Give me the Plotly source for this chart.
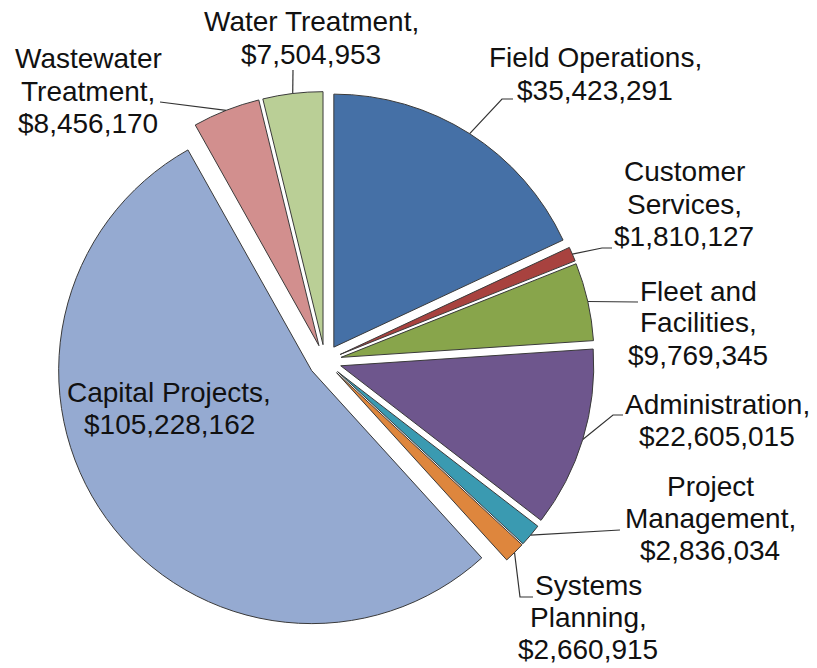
import math
import plotly.graph_objects as go

# ---------------- data ----------------
categories = ["Field Operations", "Customer Services", "Fleet and Facilities",
              "Administration", "Project Management", "Systems Planning",
              "Capital Projects", "Wastewater Treatment", "Water Treatment"]
values = [35423291, 1810127, 9769345, 22605015, 2836034, 2660915,
          105228162, 8456170, 7504953]
label_lines = [["Field Operations,"], ["Customer", "Services,"],
               ["Fleet and", "Facilities,"], ["Administration,"],
               ["Project", "Management,"], ["Systems", "Planning,"],
               ["Capital Projects,"], ["Wastewater", "Treatment,"],
               ["Water Treatment,"]]

# ---------------- styles / layout ----------------
colors = ["#4570A6", "#A8423F", "#88A54B", "#6E568D", "#3A9AB1",
          "#DE863D", "#95AAD1", "#D28F8E", "#BACF96"]
W, H = 817, 668
CX, CY, R, PULL = 325, 361, 253, 0.065
FONT = 28
LINE_GAP = 32

# label placement (pixel): centre x, first line centre y, leader elbow points
label_pos = [
    (595, 58, [(502, 99), (513, 99)]),
    (684, 172, [(602, 248), (612, 248)]),
    (698, 291, [(638, 302)]),
    (717, 404, [(613, 415), (623, 415)]),
    (710, 486, [(620, 530)]),
    (588, 585, [(520, 597), (533, 597)]),
    (169, 392, None),
    (88, 59, [(160, 102)]),
    (311, 22, [(293, 70)]),
]

half = R * (1 + PULL)
dom_x = [(CX - half) / W, (CX + half) / W]
dom_y = [(H - CY - half) / H, (H - CY + half) / H]

fig = go.Figure(go.Pie(
    labels=categories, values=values, sort=False, direction="clockwise",
    rotation=0, pull=PULL, textinfo="none", hoverinfo="label+value",
    marker=dict(colors=colors, line=dict(color="#3a3a3a", width=1)),
    domain=dict(x=dom_x, y=dom_y), showlegend=False,
))

def px(x):
    return x / W

def py(y):
    return 1 - y / H

total = sum(values)
cum = 0.0
annotations = []
shapes = []
for name, val, lines, (lx, ly, elbow) in zip(categories, values, label_lines, label_pos):
    frac = val / total
    mid = (cum + frac / 2) * 2 * math.pi
    cum += frac
    sx, sy = math.sin(mid), -math.cos(mid)
    ccx, ccy = CX + PULL * R * sx, CY + PULL * R * sy
    arc = (ccx + R * sx, ccy + R * sy)
    all_lines = lines + ["${:,}".format(val)]
    for i, t in enumerate(all_lines):
        annotations.append(dict(
            x=px(lx), y=py(ly + i * LINE_GAP), xref="paper", yref="paper",
            text=t, showarrow=False, xanchor="center", yanchor="middle",
            font=dict(family="Arial, Liberation Sans, sans-serif", size=FONT,
                      color="#111111")))
    if elbow:
        pts = [arc] + elbow
        path = "M " + " L ".join("{:.5f},{:.5f}".format(px(a), py(b)) for a, b in pts)
        shapes.append(dict(type="path", xref="paper", yref="paper", path=path,
                           line=dict(color="#333333", width=1.2)))

fig.update_layout(
    width=W, height=H, margin=dict(l=0, r=0, t=0, b=0),
    paper_bgcolor="white", plot_bgcolor="white", showlegend=False,
    annotations=annotations, shapes=shapes,
)

fig.write_html("out.html", config={"displayModeBar": False},
               post_script="document.body.style.margin='0';document.body.style.overflow='hidden';")
